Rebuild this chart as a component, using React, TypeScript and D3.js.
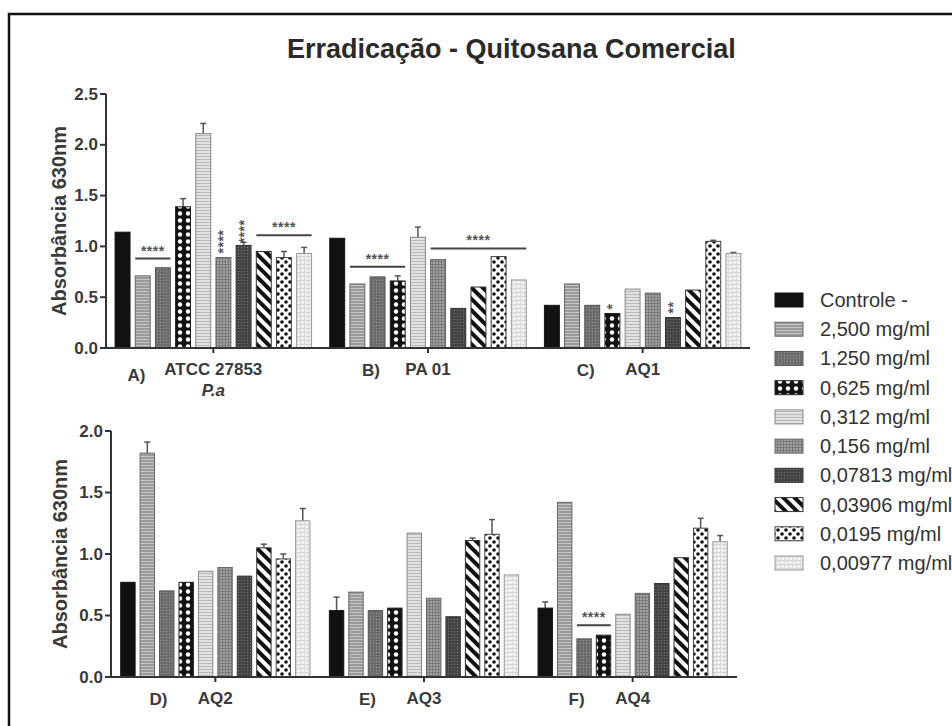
import React from "react";
import * as d3 from "d3";

const concentrations = [
  "Controle -",
  "2,500 mg/ml",
  "1,250 mg/ml",
  "0,625 mg/ml",
  "0,312 mg/ml",
  "0,156 mg/ml",
  "0,07813 mg/ml",
  "0,03906 mg/ml",
  "0,0195 mg/ml",
  "0,00977 mg/ml",
];

const chartTitle = "Erradicação - Quitosana Comercial";
const yTitle = "Absorbância 630nm";

const topGroups = ["ATCC 27853", "PA 01", "AQ1"];
const topPrefixes = ["A)", "B)", "C)"];
const topSubLabels = ["P.a", "", ""];
const bottomGroups = ["AQ2", "AQ3", "AQ4"];
const bottomPrefixes = ["D)", "E)", "F)"];
const bottomSubLabels = ["", "", ""];

const topTicks = [0, 0.5, 1.0, 1.5, 2.0, 2.5];
const bottomTicks = [0, 0.5, 1.0, 1.5, 2.0];

// Panel A-C (top)
const valuesA = [1.14, 0.71, 0.79, 1.39, 2.11, 0.89, 1.01, 0.95, 0.89, 0.93];
const errorsA = [0, 0, 0, 0.08, 0.1, 0, 0.03, 0, 0.06, 0.06];
const valuesB = [1.08, 0.63, 0.7, 0.66, 1.09, 0.87, 0.39, 0.6, 0.9, 0.67];
const errorsB = [0, 0, 0, 0.05, 0.1, 0, 0, 0, 0, 0];
const valuesC = [0.42, 0.63, 0.42, 0.34, 0.58, 0.54, 0.3, 0.57, 1.05, 0.93];
const errorsC = [0, 0, 0, 0, 0, 0, 0, 0, 0.01, 0.01];
// Panel D-F (bottom)
const valuesD = [0.77, 1.82, 0.7, 0.77, 0.86, 0.89, 0.82, 1.05, 0.96, 1.27];
const errorsD = [0, 0.09, 0, 0, 0, 0, 0, 0.03, 0.04, 0.1];
const valuesE = [0.54, 0.69, 0.54, 0.56, 1.17, 0.64, 0.49, 1.11, 1.16, 0.83];
const errorsE = [0.11, 0, 0, 0, 0, 0, 0, 0.02, 0.12, 0];
const valuesF = [0.56, 1.42, 0.31, 0.34, 0.51, 0.68, 0.76, 0.97, 1.21, 1.1];
const errorsF = [0.05, 0, 0, 0, 0, 0, 0, 0, 0.08, 0.05];

// significance brackets: panel, group, first bar, last bar, value level, label
const sigBrackets = [
  { panel: 0, group: 0, from: 1, to: 2, level: 0.88, label: "****" },
  { panel: 0, group: 0, from: 7, to: 9, level: 1.11, label: "****" },
  { panel: 0, group: 1, from: 1, to: 3, level: 0.8, label: "****" },
  { panel: 0, group: 1, from: 5, to: 9, level: 0.98, label: "****" },
  { panel: 1, group: 2, from: 2, to: 3, level: 0.42, label: "****" },
];
// vertical star labels over single bars
const sigVertical = [
  { panel: 0, group: 0, bar: 5, level: 0.93, label: "****" },
  { panel: 0, group: 0, bar: 6, level: 1.03, label: "****" },
  { panel: 0, group: 2, bar: 3, level: 0.38, label: "*" },
  { panel: 0, group: 2, bar: 6, level: 0.34, label: "**" },
];

const topValues = [valuesA, valuesB, valuesC];
const topErrors = [errorsA, errorsB, errorsC];
const bottomValues = [valuesD, valuesE, valuesF];
const bottomErrors = [errorsD, errorsE, errorsF];

const FONT = "'Liberation Sans', Arial, Helvetica, sans-serif";

const fills = [
  "#111111",
  "url(#p1)",
  "url(#p2)",
  "url(#p3)",
  "url(#p4)",
  "url(#p5)",
  "url(#p6)",
  "url(#p7)",
  "url(#p8)",
  "url(#p9)",
];
const strokes = ["#111", "#666", "#555", "#222", "#888", "#666", "#333", "#333", "#444", "#999"];

type Layout = {
  left: number;
  right: number;
  top: number;
  bottom: number;
  max: number;
  padOuter: number;
  titleX: number;
  labelY: number;
};

const TOP: Layout = { left: 106, right: 750, top: 94, bottom: 348, max: 2.5, padOuter: 0.45, titleX: 66, labelY: 375 };
const BOTTOM: Layout = { left: 111, right: 737, top: 431, bottom: 677, max: 2.0, padOuter: 0.5, titleX: 67, labelY: 704 };

function Panel({
  L,
  panelIndex,
  groups,
  prefixes,
  subs,
  values,
  errors,
  ticks,
}: {
  L: Layout;
  panelIndex: number;
  groups: string[];
  prefixes: string[];
  subs: string[];
  values: number[][];
  errors: number[][];
  ticks: number[];
}) {
  const y = d3.scaleLinear().domain([0, L.max]).range([L.bottom, L.top]);
  const x0 = d3.scaleBand<string>().domain(groups).range([L.left, L.right]).padding(0);
  const x1 = d3
    .scaleBand<number>()
    .domain(d3.range(concentrations.length))
    .range([0, x0.bandwidth()])
    .paddingInner(0.26)
    .paddingOuter(L.padOuter);
  const bw = x1.bandwidth();
  const axisColor = "#333";
  return (
    <g>
      {/* bars */}
      {groups.map((g, gi) => (
        <g key={g}>
          {values[gi].map((v, bi) => {
            const bx = (x0(g) as number) + (x1(bi) as number);
            const err = errors[gi][bi];
            return (
              <g key={bi}>
                {err > 0 && (
                  <g stroke="#555" strokeWidth={1.5}>
                    <line x1={bx + bw / 2} x2={bx + bw / 2} y1={y(v)} y2={y(v + err)} />
                    <line x1={bx + bw / 2 - 3} x2={bx + bw / 2 + 3} y1={y(v + err)} y2={y(v + err)} />
                  </g>
                )}
                <rect
                  x={bx}
                  y={y(v)}
                  width={bw}
                  height={L.bottom - y(v)}
                  fill={fills[bi]}
                  stroke={strokes[bi]}
                  strokeWidth={1}
                />
              </g>
            );
          })}
        </g>
      ))}
      {/* significance brackets */}
      {sigBrackets
        .filter((s) => s.panel === panelIndex)
        .map((s, i) => {
          const g = groups[s.group];
          const xa = (x0(g) as number) + (x1(s.from) as number);
          const xb = (x0(g) as number) + (x1(s.to) as number) + bw;
          const yy = y(s.level);
          return (
            <g key={"b" + i}>
              <line x1={xa} x2={xb} y1={yy} y2={yy} stroke="#444" strokeWidth={2} />
              <text
                x={(xa + xb) / 2}
                y={yy - 3}
                textAnchor="middle"
                fontFamily={FONT}
                fontWeight="bold"
                fontSize={14}
                fill="#555"
                letterSpacing={0.5}
              >
                {s.label}
              </text>
            </g>
          );
        })}
      {sigVertical
        .filter((s) => s.panel === panelIndex)
        .map((s, i) => {
          const g = groups[s.group];
          const cx = (x0(g) as number) + (x1(s.bar) as number) + bw / 2;
          const yy = y(s.level);
          return (
            <text
              key={"v" + i}
              transform={`translate(${cx + 5},${yy}) rotate(-90)`}
              fontFamily={FONT}
              fontWeight="bold"
              fontSize={14}
              fill="#555"
              letterSpacing={0.5}
            >
              {s.label}
            </text>
          );
        })}
      {/* y axis */}
      <line x1={L.left} x2={L.left} y1={L.top} y2={L.bottom} stroke={axisColor} strokeWidth={2} />
      {ticks.map((t) => (
        <g key={t}>
          <line x1={L.left - 6} x2={L.left} y1={y(t)} y2={y(t)} stroke={axisColor} strokeWidth={2} />
          <text
            x={L.left - 8}
            y={y(t)}
            textAnchor="end"
            dominantBaseline="central"
            fontFamily={FONT}
            fontWeight="bold"
            fontSize={17}
            fill="#3a3a3a"
          >
            {t.toFixed(1)}
          </text>
        </g>
      ))}
      {/* x axis */}
      <line x1={L.left - 1} x2={L.right} y1={L.bottom} y2={L.bottom} stroke={axisColor} strokeWidth={2} />
      {groups.map((g, gi) => {
        const cx = (x0(g) as number) + x0.bandwidth() / 2;
        const off = g.length > 6 ? 68 : 48;
        return (
          <g key={"l" + g} fontFamily={FONT} fontWeight="bold" fill="#3a3a3a">
            <line x1={cx} x2={cx} y1={L.bottom} y2={L.bottom + 5} stroke={axisColor} strokeWidth={2} />
            <text x={cx} y={L.labelY} textAnchor="middle" fontSize={17}>
              {g}
            </text>
            <text x={cx - off} y={L.labelY + (subs[gi] ? 6 : 1)} textAnchor="end" fontSize={17}>
              {prefixes[gi]}
            </text>
            {subs[gi] && (
              <text x={cx} y={L.labelY + 21} textAnchor="middle" fontSize={17} fontStyle="italic">
                {subs[gi]}
              </text>
            )}
          </g>
        );
      })}
      {/* y title */}
      <text
        transform={`translate(${L.titleX},${(L.top + L.bottom) / 2}) rotate(-90)`}
        textAnchor="middle"
        fontFamily={FONT}
        fontWeight="bold"
        fontSize={20}
        fill="#3a3a3a"
      >
        {yTitle}
      </text>
    </g>
  );
}

export default function App() {
  const legendY = d3.scaleLinear().domain([0, concentrations.length - 1]).range([300, 563]);
  return (
    <svg
      width={952}
      height={726}
      style={{ position: "absolute", left: 0, top: 0, background: "#fff" }}
    >
      <defs>
        <pattern id="p1" width="4" height="3" patternUnits="userSpaceOnUse">
          <rect width="4" height="3" fill="#9a9a9a" />
          <rect width="4" height="1" fill="#c6c6c6" />
        </pattern>
        <pattern id="p2" width="3" height="3" patternUnits="userSpaceOnUse">
          <rect width="3" height="3" fill="#6c6c6c" />
          <rect x="1" y="1" width="1" height="1" fill="#9a9a9a" />
        </pattern>
        <pattern id="p3" width="8" height="7" patternUnits="userSpaceOnUse">
          <rect width="8" height="7" fill="#111" />
          <circle cx="4" cy="3.5" r="2.2" fill="#fff" />
        </pattern>
        <pattern id="p4" width="4" height="3" patternUnits="userSpaceOnUse">
          <rect width="4" height="3" fill="#e2e2e2" />
          <rect width="4" height="1" fill="#b8b8b8" />
        </pattern>
        <pattern id="p5" width="3" height="3" patternUnits="userSpaceOnUse">
          <rect width="3" height="3" fill="#a2a2a2" />
          <rect width="3" height="1" fill="#7a7a7a" />
          <rect width="1" height="3" fill="#7a7a7a" />
        </pattern>
        <pattern id="p6" width="3" height="3" patternUnits="userSpaceOnUse">
          <rect width="3" height="3" fill="#444" />
          <rect x="1" y="1" width="1" height="1" fill="#777" />
        </pattern>
        <pattern id="p7" width="8" height="8" patternUnits="userSpaceOnUse" patternTransform="rotate(-45)">
          <rect width="8" height="8" fill="#fff" />
          <rect width="4" height="8" fill="#111" />
        </pattern>
        <pattern id="p8" width="8" height="8" patternUnits="userSpaceOnUse">
          <rect width="8" height="8" fill="#fff" />
          <circle cx="2" cy="2" r="1.8" fill="#111" />
          <circle cx="6" cy="6" r="1.8" fill="#111" />
        </pattern>
        <pattern id="p9" width="4" height="4" patternUnits="userSpaceOnUse">
          <rect width="4" height="4" fill="#f0f0f0" />
          <rect width="4" height="1" fill="#d4d4d4" />
          <rect width="1" height="4" fill="#dcdcdc" />
        </pattern>
      </defs>
      <rect x={0} y={0} width={952} height={726} fill="#fff" />
      <rect x={9} y={14} width={980} height={760} fill="none" stroke="#111" strokeWidth={2.5} />
      <text x={287} y={58} fontFamily={FONT} fontWeight="bold" fontSize={27} fill="#2a2a2a">
        {chartTitle}
      </text>
      <Panel
        L={TOP}
        panelIndex={0}
        groups={topGroups}
        prefixes={topPrefixes}
        subs={topSubLabels}
        values={topValues}
        errors={topErrors}
        ticks={topTicks}
      />
      <Panel
        L={BOTTOM}
        panelIndex={1}
        groups={bottomGroups}
        prefixes={bottomPrefixes}
        subs={bottomSubLabels}
        values={bottomValues}
        errors={bottomErrors}
        ticks={bottomTicks}
      />
      {concentrations.map((c, i) => (
        <g key={c}>
          <rect
            x={775}
            y={legendY(i) - 7}
            width={28}
            height={14}
            fill={fills[i]}
            stroke={strokes[i]}
            strokeWidth={1}
          />
          <text
            x={820}
            y={legendY(i)}
            dominantBaseline="central"
            fontFamily={FONT}
            fontSize={20}
            fill="#333"
          >
            {c}
          </text>
        </g>
      ))}
    </svg>
  );
}
